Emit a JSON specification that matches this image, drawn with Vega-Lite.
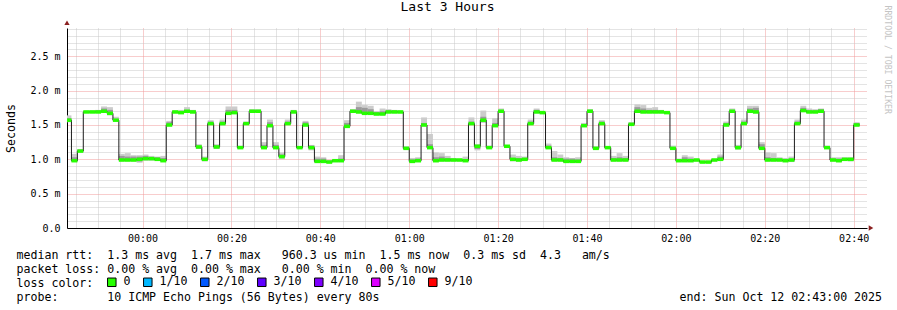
{
  "$schema": "https://vega.github.io/schema/vega-lite/v6.json",
  "width": 800,
  "height": 200,
  "autosize": {"type": "none"},
  "padding": {"left": 67, "top": 28, "right": 30, "bottom": 82},
  "background": "#ffffff",
  "title": {"text": "Last 3 Hours", "font": "DejaVu Sans Mono", "fontSize": 13, "fontWeight": "normal", "color": "#000000", "anchor": "middle", "frame": "group", "dx": -19.5, "offset": 0, "dy": 19, "baseline": "alphabetic"},
  "config": {"view": {"stroke": null}},
  "resolve": {"axis": {"x": "independent", "y": "independent"}},
  "data": {"values": [
    {"t":"2025-10-11T23:43:00Z","t2":"2025-10-11T23:44:00Z","m":1.57,"lo":1.54,"hi":1.64,"dl":1.55,"dh":1.60},
    {"t":"2025-10-11T23:44:00Z","t2":"2025-10-11T23:45:20Z","m":0.98,"lo":0.96,"hi":1.08,"dl":0.97,"dh":1.03},
    {"t":"2025-10-11T23:45:20Z","t2":"2025-10-11T23:46:40Z","m":1.12,"lo":1.10,"hi":1.15,"dl":1.11,"dh":1.14},
    {"t":"2025-10-11T23:46:40Z","t2":"2025-10-11T23:48:00Z","m":1.69,"lo":1.68,"hi":1.70,"dl":1.68,"dh":1.70},
    {"t":"2025-10-11T23:48:00Z","t2":"2025-10-11T23:49:20Z","m":1.69,"lo":1.68,"hi":1.71,"dl":1.68,"dh":1.70},
    {"t":"2025-10-11T23:49:20Z","t2":"2025-10-11T23:50:40Z","m":1.69,"lo":1.68,"hi":1.72,"dl":1.68,"dh":1.71},
    {"t":"2025-10-11T23:50:40Z","t2":"2025-10-11T23:52:00Z","m":1.70,"lo":1.68,"hi":1.77,"dl":1.69,"dh":1.74},
    {"t":"2025-10-11T23:52:00Z","t2":"2025-10-11T23:53:20Z","m":1.67,"lo":1.64,"hi":1.76,"dl":1.65,"dh":1.72},
    {"t":"2025-10-11T23:53:20Z","t2":"2025-10-11T23:54:40Z","m":1.57,"lo":1.55,"hi":1.62,"dl":1.56,"dh":1.59},
    {"t":"2025-10-11T23:54:40Z","t2":"2025-10-11T23:56:00Z","m":0.99,"lo":0.97,"hi":1.08,"dl":0.98,"dh":1.05},
    {"t":"2025-10-11T23:56:00Z","t2":"2025-10-11T23:57:20Z","m":0.99,"lo":0.97,"hi":1.09,"dl":0.98,"dh":1.04},
    {"t":"2025-10-11T23:57:20Z","t2":"2025-10-11T23:58:40Z","m":0.99,"lo":0.97,"hi":1.06,"dl":0.98,"dh":1.04},
    {"t":"2025-10-11T23:58:40Z","t2":"2025-10-12T00:00:00Z","m":1.00,"lo":0.95,"hi":1.06,"dl":0.97,"dh":1.04},
    {"t":"2025-10-12T00:00:00Z","t2":"2025-10-12T00:01:20Z","m":1.01,"lo":0.98,"hi":1.07,"dl":0.99,"dh":1.05},
    {"t":"2025-10-12T00:01:20Z","t2":"2025-10-12T00:02:40Z","m":1.01,"lo":0.98,"hi":1.05,"dl":0.99,"dh":1.03},
    {"t":"2025-10-12T00:02:40Z","t2":"2025-10-12T00:04:00Z","m":1.00,"lo":0.98,"hi":1.04,"dl":0.99,"dh":1.03},
    {"t":"2025-10-12T00:04:00Z","t2":"2025-10-12T00:05:20Z","m":0.98,"lo":0.97,"hi":1.05,"dl":0.98,"dh":1.02},
    {"t":"2025-10-12T00:05:20Z","t2":"2025-10-12T00:06:40Z","m":1.50,"lo":1.48,"hi":1.56,"dl":1.49,"dh":1.54},
    {"t":"2025-10-12T00:06:40Z","t2":"2025-10-12T00:08:00Z","m":1.69,"lo":1.67,"hi":1.71,"dl":1.68,"dh":1.70},
    {"t":"2025-10-12T00:08:00Z","t2":"2025-10-12T00:09:20Z","m":1.68,"lo":1.67,"hi":1.72,"dl":1.67,"dh":1.70},
    {"t":"2025-10-12T00:09:20Z","t2":"2025-10-12T00:10:40Z","m":1.70,"lo":1.68,"hi":1.76,"dl":1.69,"dh":1.72},
    {"t":"2025-10-12T00:10:40Z","t2":"2025-10-12T00:12:00Z","m":1.69,"lo":1.67,"hi":1.72,"dl":1.68,"dh":1.71},
    {"t":"2025-10-12T00:12:00Z","t2":"2025-10-12T00:13:20Z","m":1.18,"lo":1.15,"hi":1.22,"dl":1.16,"dh":1.20},
    {"t":"2025-10-12T00:13:20Z","t2":"2025-10-12T00:14:40Z","m":1.00,"lo":0.97,"hi":1.04,"dl":0.98,"dh":1.02},
    {"t":"2025-10-12T00:14:40Z","t2":"2025-10-12T00:16:00Z","m":1.52,"lo":1.50,"hi":1.57,"dl":1.51,"dh":1.55},
    {"t":"2025-10-12T00:16:00Z","t2":"2025-10-12T00:17:20Z","m":1.18,"lo":1.15,"hi":1.22,"dl":1.16,"dh":1.20},
    {"t":"2025-10-12T00:17:20Z","t2":"2025-10-12T00:18:40Z","m":1.52,"lo":1.49,"hi":1.58,"dl":1.51,"dh":1.55},
    {"t":"2025-10-12T00:18:40Z","t2":"2025-10-12T00:20:00Z","m":1.67,"lo":1.65,"hi":1.77,"dl":1.66,"dh":1.72},
    {"t":"2025-10-12T00:20:00Z","t2":"2025-10-12T00:21:20Z","m":1.68,"lo":1.66,"hi":1.77,"dl":1.67,"dh":1.72},
    {"t":"2025-10-12T00:21:20Z","t2":"2025-10-12T00:22:40Z","m":1.17,"lo":1.15,"hi":1.20,"dl":1.16,"dh":1.19},
    {"t":"2025-10-12T00:22:40Z","t2":"2025-10-12T00:24:00Z","m":1.52,"lo":1.50,"hi":1.55,"dl":1.51,"dh":1.54},
    {"t":"2025-10-12T00:24:00Z","t2":"2025-10-12T00:25:20Z","m":1.70,"lo":1.68,"hi":1.73,"dl":1.69,"dh":1.72},
    {"t":"2025-10-12T00:25:20Z","t2":"2025-10-12T00:26:40Z","m":1.70,"lo":1.68,"hi":1.73,"dl":1.69,"dh":1.71},
    {"t":"2025-10-12T00:26:40Z","t2":"2025-10-12T00:28:00Z","m":1.17,"lo":1.15,"hi":1.25,"dl":1.16,"dh":1.21},
    {"t":"2025-10-12T00:28:00Z","t2":"2025-10-12T00:29:20Z","m":1.49,"lo":1.47,"hi":1.58,"dl":1.48,"dh":1.54},
    {"t":"2025-10-12T00:29:20Z","t2":"2025-10-12T00:30:40Z","m":1.17,"lo":1.15,"hi":1.25,"dl":1.16,"dh":1.21},
    {"t":"2025-10-12T00:30:40Z","t2":"2025-10-12T00:32:00Z","m":1.04,"lo":1.00,"hi":1.10,"dl":1.02,"dh":1.07},
    {"t":"2025-10-12T00:32:00Z","t2":"2025-10-12T00:33:20Z","m":1.52,"lo":1.50,"hi":1.58,"dl":1.51,"dh":1.55},
    {"t":"2025-10-12T00:33:20Z","t2":"2025-10-12T00:34:40Z","m":1.69,"lo":1.67,"hi":1.72,"dl":1.68,"dh":1.71},
    {"t":"2025-10-12T00:34:40Z","t2":"2025-10-12T00:36:00Z","m":1.17,"lo":1.15,"hi":1.19,"dl":1.16,"dh":1.18},
    {"t":"2025-10-12T00:36:00Z","t2":"2025-10-12T00:37:20Z","m":1.50,"lo":1.48,"hi":1.56,"dl":1.49,"dh":1.54},
    {"t":"2025-10-12T00:37:20Z","t2":"2025-10-12T00:38:40Z","m":1.17,"lo":1.13,"hi":1.21,"dl":1.15,"dh":1.20},
    {"t":"2025-10-12T00:38:40Z","t2":"2025-10-12T00:40:00Z","m":0.97,"lo":0.95,"hi":1.04,"dl":0.96,"dh":1.01},
    {"t":"2025-10-12T00:40:00Z","t2":"2025-10-12T00:41:20Z","m":0.97,"lo":0.95,"hi":1.03,"dl":0.96,"dh":1.01},
    {"t":"2025-10-12T00:41:20Z","t2":"2025-10-12T00:42:40Z","m":0.96,"lo":0.95,"hi":0.99,"dl":0.95,"dh":0.98},
    {"t":"2025-10-12T00:42:40Z","t2":"2025-10-12T00:44:00Z","m":0.98,"lo":0.96,"hi":1.00,"dl":0.97,"dh":0.99},
    {"t":"2025-10-12T00:44:00Z","t2":"2025-10-12T00:45:20Z","m":0.98,"lo":0.96,"hi":1.06,"dl":0.97,"dh":1.01},
    {"t":"2025-10-12T00:45:20Z","t2":"2025-10-12T00:46:40Z","m":1.48,"lo":1.46,"hi":1.57,"dl":1.47,"dh":1.53},
    {"t":"2025-10-12T00:46:40Z","t2":"2025-10-12T00:48:00Z","m":1.70,"lo":1.68,"hi":1.73,"dl":1.69,"dh":1.72},
    {"t":"2025-10-12T00:48:00Z","t2":"2025-10-12T00:49:20Z","m":1.69,"lo":1.67,"hi":1.84,"dl":1.68,"dh":1.76},
    {"t":"2025-10-12T00:49:20Z","t2":"2025-10-12T00:50:40Z","m":1.67,"lo":1.65,"hi":1.79,"dl":1.66,"dh":1.75},
    {"t":"2025-10-12T00:50:40Z","t2":"2025-10-12T00:52:00Z","m":1.67,"lo":1.65,"hi":1.78,"dl":1.66,"dh":1.73},
    {"t":"2025-10-12T00:52:00Z","t2":"2025-10-12T00:53:20Z","m":1.66,"lo":1.64,"hi":1.70,"dl":1.65,"dh":1.69},
    {"t":"2025-10-12T00:53:20Z","t2":"2025-10-12T00:54:40Z","m":1.66,"lo":1.64,"hi":1.74,"dl":1.65,"dh":1.70},
    {"t":"2025-10-12T00:54:40Z","t2":"2025-10-12T00:56:00Z","m":1.69,"lo":1.67,"hi":1.73,"dl":1.68,"dh":1.71},
    {"t":"2025-10-12T00:56:00Z","t2":"2025-10-12T00:57:20Z","m":1.69,"lo":1.67,"hi":1.72,"dl":1.68,"dh":1.71},
    {"t":"2025-10-12T00:57:20Z","t2":"2025-10-12T00:58:40Z","m":1.69,"lo":1.67,"hi":1.71,"dl":1.68,"dh":1.70},
    {"t":"2025-10-12T00:58:40Z","t2":"2025-10-12T01:00:00Z","m":1.16,"lo":1.14,"hi":1.19,"dl":1.15,"dh":1.18},
    {"t":"2025-10-12T01:00:00Z","t2":"2025-10-12T01:01:20Z","m":0.97,"lo":0.95,"hi":1.02,"dl":0.96,"dh":1.00},
    {"t":"2025-10-12T01:01:20Z","t2":"2025-10-12T01:02:40Z","m":0.98,"lo":0.96,"hi":1.03,"dl":0.97,"dh":1.01},
    {"t":"2025-10-12T01:02:40Z","t2":"2025-10-12T01:04:00Z","m":1.50,"lo":1.48,"hi":1.61,"dl":1.49,"dh":1.53},
    {"t":"2025-10-12T01:04:00Z","t2":"2025-10-12T01:05:20Z","m":1.17,"lo":1.15,"hi":1.37,"dl":1.16,"dh":1.22},
    {"t":"2025-10-12T01:05:20Z","t2":"2025-10-12T01:06:40Z","m":0.98,"lo":0.96,"hi":1.10,"dl":0.97,"dh":1.03},
    {"t":"2025-10-12T01:06:40Z","t2":"2025-10-12T01:08:00Z","m":0.99,"lo":0.97,"hi":1.09,"dl":0.98,"dh":1.04},
    {"t":"2025-10-12T01:08:00Z","t2":"2025-10-12T01:09:20Z","m":0.99,"lo":0.97,"hi":1.05,"dl":0.98,"dh":1.02},
    {"t":"2025-10-12T01:09:20Z","t2":"2025-10-12T01:10:40Z","m":0.99,"lo":0.97,"hi":1.02,"dl":0.98,"dh":1.01},
    {"t":"2025-10-12T01:10:40Z","t2":"2025-10-12T01:12:00Z","m":0.99,"lo":0.97,"hi":1.01,"dl":0.98,"dh":1.00},
    {"t":"2025-10-12T01:12:00Z","t2":"2025-10-12T01:13:20Z","m":0.98,"lo":0.97,"hi":1.04,"dl":0.98,"dh":1.00},
    {"t":"2025-10-12T01:13:20Z","t2":"2025-10-12T01:14:40Z","m":1.52,"lo":1.50,"hi":1.61,"dl":1.51,"dh":1.55},
    {"t":"2025-10-12T01:14:40Z","t2":"2025-10-12T01:16:00Z","m":1.19,"lo":1.13,"hi":1.22,"dl":1.15,"dh":1.21},
    {"t":"2025-10-12T01:16:00Z","t2":"2025-10-12T01:17:20Z","m":1.57,"lo":1.53,"hi":1.71,"dl":1.55,"dh":1.62},
    {"t":"2025-10-12T01:17:20Z","t2":"2025-10-12T01:18:40Z","m":1.17,"lo":1.15,"hi":1.20,"dl":1.16,"dh":1.19},
    {"t":"2025-10-12T01:18:40Z","t2":"2025-10-12T01:20:00Z","m":1.49,"lo":1.47,"hi":1.60,"dl":1.48,"dh":1.53},
    {"t":"2025-10-12T01:20:00Z","t2":"2025-10-12T01:21:20Z","m":1.70,"lo":1.68,"hi":1.74,"dl":1.69,"dh":1.72},
    {"t":"2025-10-12T01:21:20Z","t2":"2025-10-12T01:22:40Z","m":1.19,"lo":1.17,"hi":1.21,"dl":1.18,"dh":1.20},
    {"t":"2025-10-12T01:22:40Z","t2":"2025-10-12T01:24:00Z","m":1.00,"lo":0.97,"hi":1.07,"dl":0.98,"dh":1.02},
    {"t":"2025-10-12T01:24:00Z","t2":"2025-10-12T01:25:20Z","m":0.99,"lo":0.97,"hi":1.05,"dl":0.98,"dh":1.02},
    {"t":"2025-10-12T01:25:20Z","t2":"2025-10-12T01:26:40Z","m":1.00,"lo":0.98,"hi":1.04,"dl":0.99,"dh":1.02},
    {"t":"2025-10-12T01:26:40Z","t2":"2025-10-12T01:28:00Z","m":1.52,"lo":1.50,"hi":1.58,"dl":1.51,"dh":1.55},
    {"t":"2025-10-12T01:28:00Z","t2":"2025-10-12T01:29:20Z","m":1.69,"lo":1.67,"hi":1.74,"dl":1.68,"dh":1.72},
    {"t":"2025-10-12T01:29:20Z","t2":"2025-10-12T01:30:40Z","m":1.68,"lo":1.66,"hi":1.70,"dl":1.67,"dh":1.69},
    {"t":"2025-10-12T01:30:40Z","t2":"2025-10-12T01:32:00Z","m":1.17,"lo":1.15,"hi":1.23,"dl":1.16,"dh":1.20},
    {"t":"2025-10-12T01:32:00Z","t2":"2025-10-12T01:33:20Z","m":0.99,"lo":0.97,"hi":1.12,"dl":0.98,"dh":1.03},
    {"t":"2025-10-12T01:33:20Z","t2":"2025-10-12T01:34:40Z","m":0.99,"lo":0.97,"hi":1.07,"dl":0.98,"dh":1.02},
    {"t":"2025-10-12T01:34:40Z","t2":"2025-10-12T01:36:00Z","m":0.97,"lo":0.95,"hi":1.03,"dl":0.96,"dh":1.01},
    {"t":"2025-10-12T01:36:00Z","t2":"2025-10-12T01:37:20Z","m":0.97,"lo":0.95,"hi":1.02,"dl":0.96,"dh":1.01},
    {"t":"2025-10-12T01:37:20Z","t2":"2025-10-12T01:38:40Z","m":0.97,"lo":0.95,"hi":1.03,"dl":0.96,"dh":1.00},
    {"t":"2025-10-12T01:38:40Z","t2":"2025-10-12T01:40:00Z","m":1.49,"lo":1.47,"hi":1.53,"dl":1.48,"dh":1.51},
    {"t":"2025-10-12T01:40:00Z","t2":"2025-10-12T01:41:20Z","m":1.70,"lo":1.68,"hi":1.73,"dl":1.69,"dh":1.72},
    {"t":"2025-10-12T01:41:20Z","t2":"2025-10-12T01:42:40Z","m":1.16,"lo":1.14,"hi":1.19,"dl":1.15,"dh":1.18},
    {"t":"2025-10-12T01:42:40Z","t2":"2025-10-12T01:44:00Z","m":1.52,"lo":1.50,"hi":1.57,"dl":1.51,"dh":1.55},
    {"t":"2025-10-12T01:44:00Z","t2":"2025-10-12T01:45:20Z","m":1.17,"lo":1.15,"hi":1.19,"dl":1.16,"dh":1.18},
    {"t":"2025-10-12T01:45:20Z","t2":"2025-10-12T01:46:40Z","m":0.99,"lo":0.97,"hi":1.05,"dl":0.98,"dh":1.02},
    {"t":"2025-10-12T01:46:40Z","t2":"2025-10-12T01:48:00Z","m":0.99,"lo":0.97,"hi":1.09,"dl":0.98,"dh":1.03},
    {"t":"2025-10-12T01:48:00Z","t2":"2025-10-12T01:49:20Z","m":0.99,"lo":0.97,"hi":1.05,"dl":0.98,"dh":1.02},
    {"t":"2025-10-12T01:49:20Z","t2":"2025-10-12T01:50:40Z","m":1.51,"lo":1.49,"hi":1.54,"dl":1.50,"dh":1.53},
    {"t":"2025-10-12T01:50:40Z","t2":"2025-10-12T01:52:00Z","m":1.70,"lo":1.68,"hi":1.80,"dl":1.69,"dh":1.76},
    {"t":"2025-10-12T01:52:00Z","t2":"2025-10-12T01:53:20Z","m":1.69,"lo":1.67,"hi":1.79,"dl":1.68,"dh":1.74},
    {"t":"2025-10-12T01:53:20Z","t2":"2025-10-12T01:54:40Z","m":1.69,"lo":1.67,"hi":1.75,"dl":1.68,"dh":1.72},
    {"t":"2025-10-12T01:54:40Z","t2":"2025-10-12T01:56:00Z","m":1.69,"lo":1.67,"hi":1.76,"dl":1.68,"dh":1.72},
    {"t":"2025-10-12T01:56:00Z","t2":"2025-10-12T01:57:20Z","m":1.69,"lo":1.67,"hi":1.72,"dl":1.68,"dh":1.71},
    {"t":"2025-10-12T01:57:20Z","t2":"2025-10-12T01:58:40Z","m":1.68,"lo":1.66,"hi":1.70,"dl":1.67,"dh":1.69},
    {"t":"2025-10-12T01:58:40Z","t2":"2025-10-12T02:00:00Z","m":1.16,"lo":1.14,"hi":1.20,"dl":1.15,"dh":1.18},
    {"t":"2025-10-12T02:00:00Z","t2":"2025-10-12T02:01:20Z","m":0.98,"lo":0.96,"hi":1.01,"dl":0.97,"dh":1.00},
    {"t":"2025-10-12T02:01:20Z","t2":"2025-10-12T02:02:40Z","m":0.98,"lo":0.96,"hi":1.06,"dl":0.97,"dh":1.03},
    {"t":"2025-10-12T02:02:40Z","t2":"2025-10-12T02:04:00Z","m":0.98,"lo":0.96,"hi":1.04,"dl":0.97,"dh":1.01},
    {"t":"2025-10-12T02:04:00Z","t2":"2025-10-12T02:05:20Z","m":0.99,"lo":0.97,"hi":1.01,"dl":0.98,"dh":1.00},
    {"t":"2025-10-12T02:05:20Z","t2":"2025-10-12T02:06:40Z","m":0.96,"lo":0.95,"hi":0.98,"dl":0.95,"dh":0.97},
    {"t":"2025-10-12T02:06:40Z","t2":"2025-10-12T02:08:00Z","m":0.96,"lo":0.95,"hi":0.98,"dl":0.95,"dh":0.97},
    {"t":"2025-10-12T02:08:00Z","t2":"2025-10-12T02:09:20Z","m":0.99,"lo":0.97,"hi":1.01,"dl":0.98,"dh":1.00},
    {"t":"2025-10-12T02:09:20Z","t2":"2025-10-12T02:10:40Z","m":1.00,"lo":0.98,"hi":1.07,"dl":0.99,"dh":1.04},
    {"t":"2025-10-12T02:10:40Z","t2":"2025-10-12T02:12:00Z","m":1.50,"lo":1.48,"hi":1.55,"dl":1.49,"dh":1.53},
    {"t":"2025-10-12T02:12:00Z","t2":"2025-10-12T02:13:20Z","m":1.70,"lo":1.68,"hi":1.74,"dl":1.69,"dh":1.72},
    {"t":"2025-10-12T02:13:20Z","t2":"2025-10-12T02:14:40Z","m":1.17,"lo":1.14,"hi":1.21,"dl":1.15,"dh":1.19},
    {"t":"2025-10-12T02:14:40Z","t2":"2025-10-12T02:16:00Z","m":1.52,"lo":1.50,"hi":1.58,"dl":1.51,"dh":1.55},
    {"t":"2025-10-12T02:16:00Z","t2":"2025-10-12T02:17:20Z","m":1.70,"lo":1.68,"hi":1.78,"dl":1.69,"dh":1.74},
    {"t":"2025-10-12T02:17:20Z","t2":"2025-10-12T02:18:40Z","m":1.69,"lo":1.67,"hi":1.78,"dl":1.68,"dh":1.75},
    {"t":"2025-10-12T02:18:40Z","t2":"2025-10-12T02:20:00Z","m":1.16,"lo":1.14,"hi":1.25,"dl":1.15,"dh":1.22},
    {"t":"2025-10-12T02:20:00Z","t2":"2025-10-12T02:21:20Z","m":0.99,"lo":0.97,"hi":1.10,"dl":0.98,"dh":1.03},
    {"t":"2025-10-12T02:21:20Z","t2":"2025-10-12T02:22:40Z","m":0.99,"lo":0.97,"hi":1.09,"dl":0.98,"dh":1.02},
    {"t":"2025-10-12T02:22:40Z","t2":"2025-10-12T02:24:00Z","m":0.99,"lo":0.97,"hi":1.03,"dl":0.98,"dh":1.01},
    {"t":"2025-10-12T02:24:00Z","t2":"2025-10-12T02:25:20Z","m":0.98,"lo":0.96,"hi":1.02,"dl":0.97,"dh":1.00},
    {"t":"2025-10-12T02:25:20Z","t2":"2025-10-12T02:26:40Z","m":0.99,"lo":0.96,"hi":1.04,"dl":0.97,"dh":1.00},
    {"t":"2025-10-12T02:26:40Z","t2":"2025-10-12T02:28:00Z","m":1.52,"lo":1.50,"hi":1.58,"dl":1.51,"dh":1.55},
    {"t":"2025-10-12T02:28:00Z","t2":"2025-10-12T02:29:20Z","m":1.71,"lo":1.69,"hi":1.78,"dl":1.70,"dh":1.75},
    {"t":"2025-10-12T02:29:20Z","t2":"2025-10-12T02:30:40Z","m":1.69,"lo":1.67,"hi":1.74,"dl":1.68,"dh":1.71},
    {"t":"2025-10-12T02:30:40Z","t2":"2025-10-12T02:32:00Z","m":1.69,"lo":1.67,"hi":1.73,"dl":1.68,"dh":1.71},
    {"t":"2025-10-12T02:32:00Z","t2":"2025-10-12T02:33:20Z","m":1.70,"lo":1.68,"hi":1.74,"dl":1.69,"dh":1.73},
    {"t":"2025-10-12T02:33:20Z","t2":"2025-10-12T02:34:40Z","m":1.17,"lo":1.15,"hi":1.20,"dl":1.16,"dh":1.19},
    {"t":"2025-10-12T02:34:40Z","t2":"2025-10-12T02:36:00Z","m":0.99,"lo":0.97,"hi":1.03,"dl":0.98,"dh":1.01},
    {"t":"2025-10-12T02:36:00Z","t2":"2025-10-12T02:37:20Z","m":0.98,"lo":0.96,"hi":1.03,"dl":0.97,"dh":1.01},
    {"t":"2025-10-12T02:37:20Z","t2":"2025-10-12T02:38:40Z","m":1.00,"lo":0.98,"hi":1.03,"dl":0.99,"dh":1.02},
    {"t":"2025-10-12T02:38:40Z","t2":"2025-10-12T02:40:00Z","m":1.00,"lo":0.97,"hi":1.03,"dl":0.98,"dh":1.02},
    {"t":"2025-10-12T02:40:00Z","t2":"2025-10-12T02:41:20Z","m":1.50,"lo":1.48,"hi":1.54,"dl":1.49,"dh":1.53},
    {"t":"2025-10-12T02:41:20Z","t2":"2025-10-12T02:41:20Z","m":1.50,"lo":1.50,"hi":1.50,"dl":1.50,"dh":1.50}
  ]},
  "layer": [
    {
      "mark": {"type": "rect", "color": "#cccccc"},
      "encoding": {
        "x": {"field": "t", "type": "temporal",
              "scale": {"type": "utc", "domain": [1760226180000, 1760236980000], "nice": false},
              "axis": {"orient": "bottom", "values": [1760226300000, 1760226600000, 1760226900000, 1760227500000, 1760227800000, 1760228100000, 1760228700000, 1760229000000, 1760229300000, 1760229900000, 1760230200000, 1760230500000, 1760231100000, 1760231400000, 1760231700000, 1760232300000, 1760232600000, 1760232900000, 1760233500000, 1760233800000, 1760234100000, 1760234700000, 1760235000000, 1760235300000, 1760235900000, 1760236200000, 1760236500000],
                       "grid": true, "gridColor": "#c8c8c8", "gridDash": [1, 1], "labels": false, "ticks": false, "domain": false, "title": null}},
        "x2": {"field": "t2"},
        "y": {"field": "lo", "type": "quantitative",
              "scale": {"domain": [0, 2.9125], "nice": false},
              "axis": {"orient": "left", "values": [0.1, 0.2, 0.3, 0.4, 0.6, 0.7, 0.8, 0.9, 1.1, 1.2, 1.3, 1.4, 1.6, 1.7, 1.8, 1.9, 2.1, 2.2, 2.3, 2.4, 2.6, 2.7, 2.8, 2.9], "grid": true, "gridColor": "#c8c8c8", "gridDash": [1, 1], "labels": false, "ticks": false, "domain": false, "title": null}},
        "y2": {"field": "hi"}
      }
    },
    {
      "mark": {"type": "rect", "color": "#9a9a9a"},
      "encoding": {
        "x": {"field": "t", "type": "temporal",
              "axis": {"orient": "bottom", "values": [1760227200000, 1760228400000, 1760229600000, 1760230800000, 1760232000000, 1760233200000, 1760234400000, 1760235600000, 1760236800000],
                       "format": "%H:%M", "grid": true, "gridColor": "#f09a9a", "gridDash": [1, 1],
                       "ticks": false, "domain": true, "domainColor": "#000000",
                       "labelFont": "DejaVu Sans Mono", "labelFontSize": 10, "labelColor": "#000000", "labelBaseline": "top", "labelPadding": 5,
                       "title": [
                         "median\u00a0rtt:\u00a0\u00a01.3\u00a0ms\u00a0avg\u00a0\u00a01.7\u00a0ms\u00a0max\u00a0\u00a0\u00a0960.3\u00a0us\u00a0min\u00a0\u00a01.5\u00a0ms\u00a0now\u00a0\u00a00.3\u00a0ms\u00a0sd\u00a0\u00a04.3\u00a0\u00a0\u00a0am/s",
                         "packet\u00a0loss:\u00a00.00\u00a0%\u00a0avg\u00a0\u00a00.00\u00a0%\u00a0max\u00a0\u00a0\u00a00.00\u00a0%\u00a0min\u00a0\u00a00.00\u00a0%\u00a0now",
                         "loss\u00a0color:",
                         "probe:\u00a0\u00a0\u00a0\u00a0\u00a0\u00a0\u00a010\u00a0ICMP\u00a0Echo\u00a0Pings\u00a0(56\u00a0Bytes)\u00a0every\u00a080s\u00a0\u00a0\u00a0\u00a0\u00a0\u00a0\u00a0\u00a0\u00a0\u00a0\u00a0\u00a0\u00a0\u00a0\u00a0\u00a0\u00a0\u00a0\u00a0\u00a0\u00a0\u00a0\u00a0\u00a0\u00a0\u00a0\u00a0\u00a0\u00a0\u00a0\u00a0\u00a0\u00a0\u00a0\u00a0\u00a0\u00a0\u00a0\u00a0\u00a0\u00a0\u00a0\u00a0end:\u00a0Sun\u00a0Oct\u00a012\u00a002:43:00\u00a02025"
                       ],
                       "titleFont": "DejaVu Sans Mono", "titleFontSize": 11.6, "titleFontWeight": "normal", "titleColor": "#000000",
                       "titleX": -51, "titleY": 30, "titleAlign": "left", "titleAnchor": "start", "titleBaseline": "alphabetic", "titleLineHeight": 14}},
        "x2": {"field": "t2"},
        "y": {"field": "dl", "type": "quantitative",
              "axis": {"orient": "left", "values": [0, 0.5, 1.0, 1.5, 2.0, 2.5], "labelExpr": "datum.value == 0 ? '0.0' : format(datum.value, '.1f') + ' m'",
                       "grid": true, "gridColor": "#f09a9a", "gridDash": [1, 1],
                       "ticks": false, "domain": true, "domainColor": "#000000",
                       "labelFont": "DejaVu Sans Mono", "labelFontSize": 10, "labelColor": "#000000", "labelPadding": 7,
                       "title": "Seconds", "titleFont": "DejaVu Sans Mono", "titleFontSize": 11.6, "titleFontWeight": "normal", "titleColor": "#000000",
                       "titleX": -56, "titleY": 100, "titleAngle": -90, "titleAlign": "center", "titleBaseline": "middle"}},
        "y2": {"field": "dh"}
      }
    },
    {
      "mark": {"type": "line", "interpolate": "step-after", "color": "#1c1c1c", "strokeWidth": 1},
      "encoding": {
        "x": {"field": "t", "type": "temporal", "axis": null},
        "y": {"field": "m", "type": "quantitative",
              "axis": {"orient": "right", "labels": false, "ticks": false, "domain": false, "grid": false,
                       "title": "RRDTOOL / TOBI OETIKER", "titleFont": "DejaVu Sans Mono", "titleFontSize": 8.2, "titleFontWeight": "normal", "titleColor": "#c4c4c4",
                       "titleAngle": 90, "titleX": 19.5, "titleY": -23, "titleAlign": "left", "titleBaseline": "middle"}}
      }
    },
    {
      "mark": {"type": "rect", "yOffset": -1.75, "y2Offset": 1.75},
      "encoding": {
        "x": {"field": "t", "type": "temporal", "axis": null},
        "x2": {"field": "t2"},
        "y": {"field": "m", "type": "quantitative", "axis": null},
        "y2": {"field": "m"},
        "color": {"datum": "0", "type": "nominal",
                  "scale": {"domain": ["0", "1/10", "2/10", "3/10", "4/10", "5/10", "9/10"], "range": ["#26ff00", "#00b8ff", "#0059ff", "#5e00ff", "#7e00ff", "#dd00ff", "#ff0000"]},
                  "legend": {"orient": "none", "legendX": 39, "legendY": 248, "direction": "horizontal", "columns": 7, "title": null,
                             "symbolType": "square", "symbolSize": 72, "symbolStrokeWidth": 1, "symbolStrokeColor": "#000000",
                             "labelFont": "DejaVu Sans Mono", "labelFontSize": 11.6, "labelColor": "#000000", "labelOffset": 6, "columnPadding": 10, "padding": 0}}
      }
    },
    {
      "data": {"values": [
        {"t": 1760226180000, "v": 2.99, "s": "triangle-up"},
        {"t": 1760237034000, "v": 0, "s": "triangle-right"}
      ]},
      "mark": {"type": "point", "filled": true, "size": 28, "opacity": 1},
      "encoding": {
        "x": {"field": "t", "type": "temporal", "axis": null},
        "y": {"field": "v", "type": "quantitative", "axis": null},
        "shape": {"field": "s", "type": "nominal", "scale": null},
        "color": {"value": "#8b2020"}
      }
    }
  ]
}
